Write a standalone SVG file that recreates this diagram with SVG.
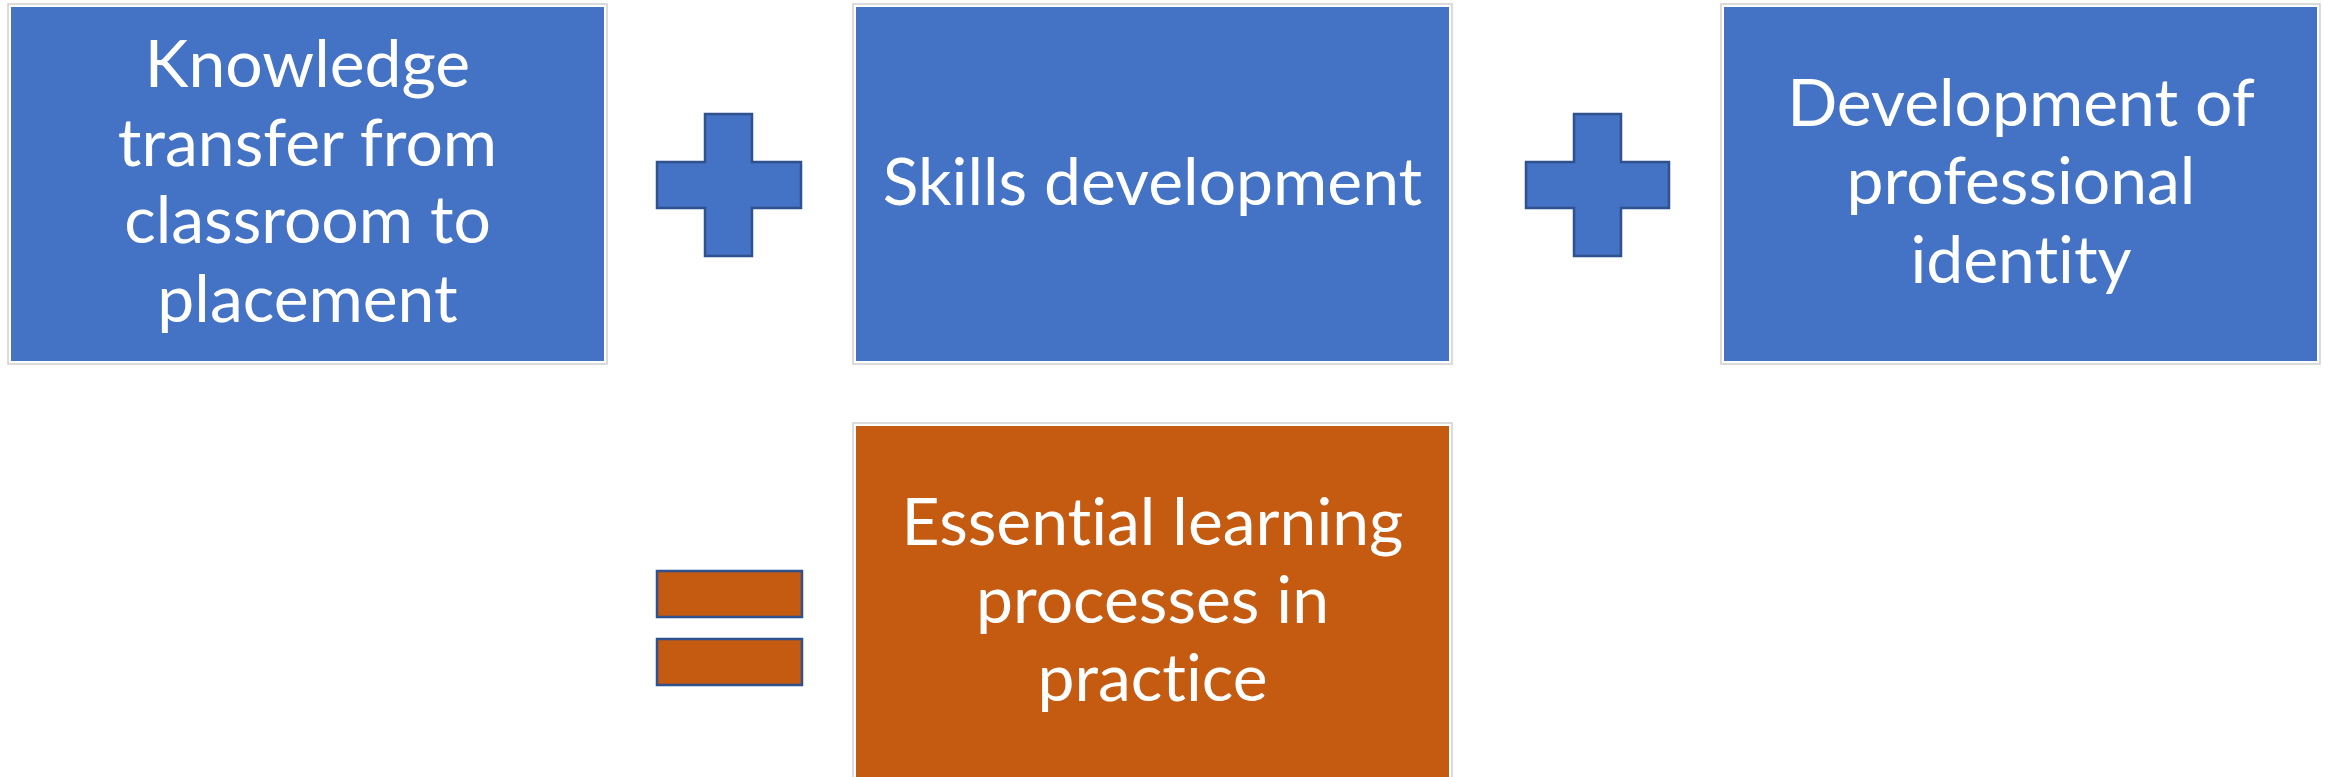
<svg xmlns="http://www.w3.org/2000/svg" width="2325" height="777" viewBox="0 0 2325 777">
<style>
.frame{fill:#ffffff;stroke:#cfcfcf;stroke-width:1.5}
.blue{fill:#4472C4}
.orange{fill:#C55A11}
.sym{stroke:#2F528F;stroke-width:2.5}
.t{font-family:Lato,"Liberation Sans",sans-serif;font-size:66px;fill:#ffffff;text-anchor:middle;font-variant-ligatures:none}
</style>
<rect width="2325" height="777" fill="#ffffff"/>
<g id="node-knowledge">
<rect class="frame" x="8" y="4" width="599" height="360"/>
<rect class="blue" x="11" y="7" width="593" height="354"/>
<text class="t" x="307.5" y="87">Knowledge</text>
<text class="t" x="307.5" y="166">transfer from</text>
<text class="t" x="307.5" y="243">classroom to</text>
<text class="t" x="307.5" y="322">placement</text>
</g>
<g id="node-skills">
<rect class="frame" x="853" y="4" width="599" height="360"/>
<rect class="blue" x="856" y="7" width="593" height="354"/>
<text class="t" x="1152.5" y="205">Skills development</text>
</g>
<g id="node-identity">
<rect class="frame" x="1721" y="4" width="599" height="360"/>
<rect class="blue" x="1724" y="7" width="593" height="354"/>
<text class="t" x="2021" y="126">Development of</text>
<text class="t" x="2021" y="204">professional</text>
<text class="t" x="2021" y="283">identity</text>
</g>
<g id="node-essential">
<rect class="frame" x="853" y="423" width="599" height="360"/>
<rect class="orange" x="856" y="426" width="593" height="354"/>
<text class="t" x="1152.5" y="545">Essential learning</text>
<text class="t" x="1152.5" y="623">processes in</text>
<text class="t" x="1152.5" y="701">practice</text>
</g>
<g id="connectors">
<g id="plus-1">
<path class="blue sym" d="M705,114 H752 V162 H801 V208 H752 V256 H705 V208 H657 V162 H705 Z"/>
</g>
<g id="plus-2">
<path class="blue sym" d="M1574,114 H1621 V162 H1669 V208 H1621 V256 H1574 V208 H1526 V162 H1574 Z"/>
</g>
<g id="equals">
<rect class="orange sym" x="657" y="571" width="145" height="46"/>
<rect class="orange sym" x="657" y="639" width="145" height="46"/>
</g>
</g>
</svg>
